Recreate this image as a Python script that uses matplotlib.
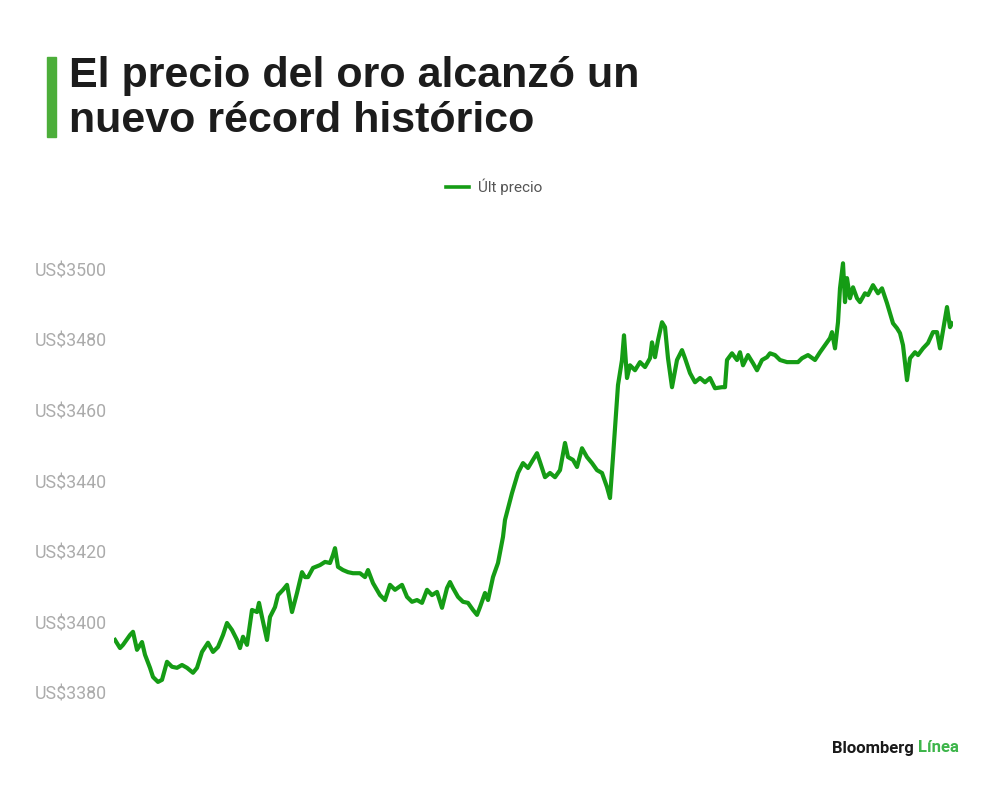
import matplotlib.pyplot as plt
from matplotlib.lines import Line2D

# tiempo relativo (unidades arbitrarias, eje x sin etiquetas) y ultimo precio del oro
tiempo = [115, 120, 123, 130, 133, 137, 142, 145, 150, 153, 158, 162, 167, 172, 177, 182, 187, 193, 197,
          202, 208, 213, 218, 223, 227, 232, 237, 240, 243, 247, 252, 257, 259, 262, 267, 270, 275, 278,
          283, 287, 292, 297, 302, 305, 308, 313, 320, 325, 330, 333, 335, 338, 343, 348, 353, 360, 365,
          368, 373, 380, 385, 390, 395, 402, 407, 412, 417, 422, 427, 432, 437, 442, 447, 450, 453, 458,
          463, 468, 473, 477, 480, 485, 488, 493, 498, 503, 505, 512, 518, 523, 528, 533, 537, 540, 545,
          550, 555, 560, 565, 568, 573, 577, 582, 587, 592, 597, 602, 607, 610, 613, 617, 618, 622, 624,
          627, 630, 635, 640, 645, 650, 652, 655, 658, 662, 665, 668, 672, 677, 682, 685, 690, 695, 700,
          705, 710, 715, 722, 725, 727, 732, 737, 740, 743, 748, 753, 757, 762, 767, 770, 775, 780, 787,
          793, 798, 802, 808, 815, 820, 825, 830, 832, 835, 838, 840, 843, 845, 847, 850, 853, 857, 860,
          865, 868, 873, 878, 882, 887, 890, 893, 897, 900, 903, 907, 910, 915, 918, 923, 928, 933, 937,
          940, 947, 950, 952]
precio = [3395.0, 3392.7, 3393.6, 3396.4, 3397.3, 3392.2, 3394.4, 3390.8, 3387.1, 3384.5, 3383.1, 3383.7,
          3388.8, 3387.4, 3387.1, 3387.9, 3387.1, 3385.7, 3387.1, 3391.6, 3394.2, 3391.6, 3393.0, 3396.4,
          3399.8, 3397.8, 3395.0, 3392.7, 3395.9, 3393.6, 3403.5, 3402.9, 3405.5, 3401.5, 3395.0, 3401.5,
          3404.3, 3407.7, 3409.2, 3410.6, 3402.9, 3408.3, 3414.2, 3412.8, 3412.8, 3415.4, 3416.2, 3417.1,
          3416.8, 3419.1, 3421.0, 3415.7, 3414.8, 3414.2, 3413.9, 3413.9, 3412.8, 3414.8, 3411.1, 3407.7,
          3406.3, 3410.6, 3409.2, 3410.6, 3407.2, 3405.8, 3406.3, 3405.5, 3409.2, 3407.7, 3408.6, 3404.1,
          3409.7, 3411.4, 3409.7, 3407.2, 3405.8, 3405.5, 3403.5, 3402.1, 3404.3, 3408.3, 3406.3, 3412.8,
          3416.8, 3424.2, 3429.0, 3436.6, 3442.3, 3445.1, 3443.7, 3446.0, 3447.9, 3445.4, 3441.1, 3442.3,
          3441.1, 3443.1, 3450.8, 3446.8, 3446.0, 3444.0, 3449.3, 3446.8, 3445.1, 3443.1, 3442.3, 3438.3,
          3435.2, 3446.8, 3462.9, 3467.2, 3474.3, 3481.3, 3469.2, 3472.8, 3471.4, 3473.7, 3472.3, 3474.8,
          3479.3, 3475.1, 3479.9, 3485.0, 3483.6, 3474.8, 3466.6, 3474.3, 3477.1, 3474.8, 3470.6, 3468.0,
          3469.2, 3468.0, 3469.2, 3466.3, 3466.6, 3466.6, 3474.3, 3476.2, 3474.3, 3476.5, 3472.8, 3475.7,
          3473.4, 3471.4, 3474.3, 3475.1, 3476.2, 3475.7, 3474.3, 3473.7, 3473.7, 3473.7, 3474.8, 3475.7,
          3474.3, 3476.5, 3478.5, 3480.5, 3482.2, 3477.6, 3485.0, 3494.6, 3501.7, 3490.7, 3497.5, 3491.8,
          3494.9, 3491.8, 3490.7, 3493.2, 3492.7, 3495.5, 3493.2, 3494.6, 3490.4, 3487.6, 3484.7, 3483.3,
          3481.9, 3478.5, 3468.6, 3474.8, 3476.5, 3475.7, 3477.6, 3479.1, 3482.2, 3482.2, 3477.6, 3489.3,
          3483.6, 3484.7]

marcas_y = [3380, 3400, 3420, 3440, 3460, 3480, 3500]
etiquetas_y = ["US$" + str(v) for v in marcas_y]

verde_linea = "#159c15"
gris_eje = "#ababab"

plt.rcParams['font.family'] = ['Roboto', 'DejaVu Sans']

fig = plt.figure(figsize=(10, 7.9), dpi=100)
ax = fig.add_axes([0.114, 0.114, 0.839, 0.563])

ax.plot(tiempo, precio, color=verde_linea, linewidth=3.0, solid_joinstyle="round")

ax.set_xlim(tiempo[0] - 1, tiempo[-1] + 1)
ax.set_ylim(3378, 3504)
ax.set_yticks(marcas_y)
ax.set_yticklabels(etiquetas_y)
ax.tick_params(axis="y", length=0, pad=5, labelsize=12.8, labelcolor=gris_eje)
ax.set_xticks([])
for s in ax.spines.values():
    s.set_visible(False)

# titulo con barra verde
fig.patches.append(plt.Rectangle((0.047, 1 - 137 / 790), 0.009, 80 / 790, transform=fig.transFigure,
                                 color="#4cae3a", zorder=3))
fig.text(0.069, 1 - 87 / 790, "El precio del oro alcanzó un", fontsize=31, fontweight="bold",
         family=["Liberation Sans", "DejaVu Sans"], color="#1c1c1c", va="baseline", ha="left")
fig.text(0.069, 1 - 132 / 790, "nuevo récord histórico", fontsize=31, fontweight="bold",
         family=["Liberation Sans", "DejaVu Sans"], color="#1c1c1c", va="baseline", ha="left")

# leyenda
leyenda = [Line2D([0], [0], color=verde_linea, linewidth=2.6)]
fig.legend(leyenda, ["Últ precio"], loc="center", bbox_to_anchor=(0.494, 1 - 187 / 790), frameon=False,
           fontsize=11, labelcolor="#555555", handlelength=1.5, handletextpad=0.6)

# pie
fig.text(0.914, 1 - 748 / 790, "Bloomberg", fontsize=12, fontweight="semibold", color="#1a1a1a",
         ha="right", va="center")
fig.text(0.918, 1 - 748 / 790, "Línea", fontsize=12, fontweight="semibold", color="#3db54a",
         ha="left", va="center")

fig.savefig("out.png", dpi=100, facecolor="white")
